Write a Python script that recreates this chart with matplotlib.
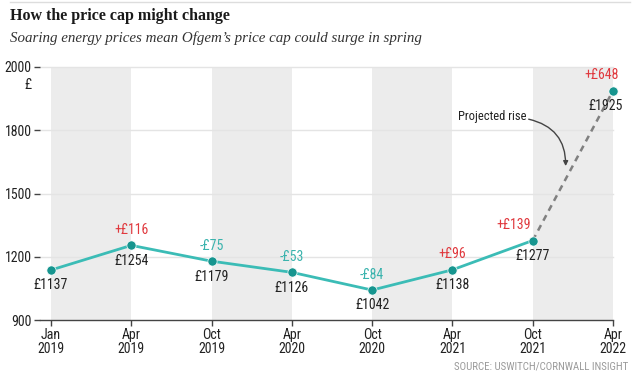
import numpy as np
import matplotlib
matplotlib.use('Agg')
import matplotlib.pyplot as plt
from matplotlib import font_manager
from matplotlib.transforms import blended_transform_factory

# data
periods = ['Jan\n2019', 'Apr\n2019', 'Oct\n2019', 'Apr\n2020', 'Oct\n2020',
           'Apr\n2021', 'Oct\n2021', 'Apr\n2022']
price_cap = [1137, 1254, 1179, 1126, 1042, 1138, 1277, 1925]
changes = [None, 116, -75, -53, -84, 96, 139, 648]
ytick_vals = [900, 1200, 1500, 1800, 2000]

names = {f.name for f in font_manager.fontManager.ttflist}
cond = 'DejaVu Sans'
for cand in ['Liberation Sans Narrow', 'DejaVu Sans Condensed', 'Roboto Condensed']:
    if cand in names:
        cond = cand
        break
plt.rcParams['font.family'] = [cond, 'DejaVu Sans']

TEAL = '#3bbcb6'
DOT = '#17958f'
RED = '#e0393e'
NEG = '#3ab3ad'
TXT = '#222222'

# the chart uses evenly spaced gridlines for uneven steps
grid_pos = np.arange(len(ytick_vals))
fwd = lambda v: np.interp(v, ytick_vals, grid_pos, left=-1e3, right=1e3)
inv = lambda p: np.interp(p, grid_pos, ytick_vals)

fig = plt.figure(figsize=(6.41, 3.85), dpi=100)
ax = fig.add_axes([40/641, 65/385, 573/641, 253/385])
ax.set_yscale('function', functions=(fwd, inv))

x = np.arange(len(periods))
ax.set_xlim(-0.137, 7.0)
ax.set_ylim(900, 2000)

for i in range(0, len(periods) - 1, 2):
    ax.axvspan(x[i], x[i + 1], color='#ececec', lw=0, zorder=0)
for v in ytick_vals[1:]:
    ax.axhline(v, color='#e4e4e4', lw=1, zorder=0.5, clip_on=False)

ax.plot(x[:-1], price_cap[:-1], color=TEAL, lw=2, zorder=2)
ax.plot(x[-2:], price_cap[-2:], color='#808080', lw=1.8, ls=(0, (2.5, 2)),
        zorder=2, clip_on=False)
ax.scatter(x, price_cap, s=44, color=DOT, edgecolor='white', lw=0.5,
           zorder=3, clip_on=False)

# small horizontal nudges where the reference shifts a label
dx_change = [0, 0, 0, 0, 0, 0, -14, -8]
dx_value = [0, 0, 0, 0, 0, 0, 0, -5]
for xi, v, c, dxc, dxv in zip(x, price_cap, changes, dx_change, dx_value):
    ax.annotate('£%d' % v, (xi, v), xytext=(dxv, -6), textcoords='offset points',
                ha='center', va='top', fontsize=10, color=TXT)
    if c is not None:
        s = ('+£%d' % c) if c > 0 else ('-£%d' % -c)
        ax.annotate(s, (xi, v), xytext=(dxc, 6), textcoords='offset points',
                    ha='center', va='bottom', fontsize=10,
                    color=RED if c > 0 else NEG)

ax.text(5.49, 1842, 'Projected rise', ha='center', va='center',
        fontsize=9, color=TXT)
ax.annotate('', xy=(6.41, 1630), xytext=(5.95, 1835),
            arrowprops=dict(arrowstyle='-|>', color='#444444', lw=1,
                            connectionstyle='arc3,rad=-0.4',
                            shrinkA=0, shrinkB=0, mutation_scale=7))

ax.set_xticks(x)
ax.set_xticklabels(periods, fontsize=10, color=TXT, linespacing=1.0)
ax.set_yticks(ytick_vals)
ax.set_yticklabels([str(v) for v in ytick_vals], fontsize=10, color=TXT)
# currency unit under the top tick label
trans = blended_transform_factory(ax.transAxes, ax.transData)
ax.annotate('£', (0, ytick_vals[-1]), xycoords=trans, xytext=(-6, -8),
            textcoords='offset points', ha='right', va='top',
            fontsize=10, color=TXT, annotation_clip=False)
ax.tick_params(axis='x', length=4, width=1, color='#444444', pad=2)
ax.tick_params(axis='y', length=4, width=1, color='#444444', pad=2)
for sp in ['top', 'right', 'left']:
    ax.spines[sp].set_visible(False)
ax.spines['bottom'].set_color('#444444')
ax.spines['bottom'].set_linewidth(1)

fig.add_artist(plt.Line2D([10/641, 630/641], [383/385, 383/385],
                          color='#dddddd', lw=1))
fig.text(10/641, 1 - 16/385, 'How the price cap might change',
         family=['Liberation Serif', 'DejaVu Serif'], weight='bold',
         fontsize=11.5, color='#1a1a1a', va='center')
fig.text(10/641, 1 - 38/385,
         'Soaring energy prices mean Ofgem\u2019s price cap could surge in spring',
         family=['Liberation Serif', 'DejaVu Serif'], style='italic',
         fontsize=10.8, color='#333333', va='center')
fig.text(628/641, 1 - 366/385, 'SOURCE: USWITCH/CORNWALL INSIGHT',
         fontsize=7.8, color='#9a9a9a', ha='right', va='center')

fig.savefig('out.png', dpi=100)
